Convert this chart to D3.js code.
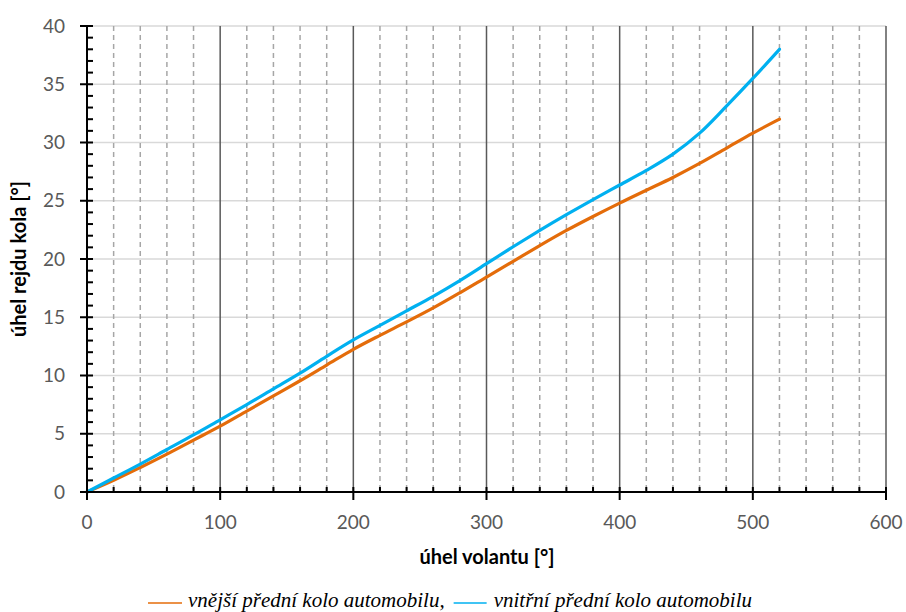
<!DOCTYPE html>
<html>
<head>
<meta charset="utf-8">
<script src="https://cdn.jsdelivr.net/npm/d3@7"></script>
<style>
  body { margin: 0; background: #fff; }
  svg { display: block; }
</style>
</head>
<body>
<div id="chart"></div>
<script>
// steering wheel angle [deg]
var wheelAngle = [0, 20, 40, 60, 80, 100, 120, 140, 160, 180, 200, 220, 240, 260,
  280, 300, 320, 340, 360, 380, 400, 420, 440, 460, 480, 500, 520];
// outer front wheel (orange)
var outerWheel = [0, 1.0, 2.1, 3.25, 4.45, 5.65, 6.95, 8.25, 9.55, 10.9, 12.25, 13.45, 14.6, 15.8,
  17.1, 18.45, 19.8, 21.15, 22.45, 23.65, 24.8, 25.9, 27.0, 28.2, 29.5, 30.8, 32.0];
// inner front wheel (blue)
var innerWheel = [0, 1.2, 2.4, 3.65, 4.9, 6.2, 7.5, 8.85, 10.2, 11.65, 13.05, 14.3, 15.55, 16.8,
  18.15, 19.6, 21.05, 22.45, 23.8, 25.1, 26.35, 27.6, 29.0, 30.8, 33.1, 35.5, 38.0];

var xTicks = [0, 100, 200, 300, 400, 500, 600];
var yTicks = [0, 5, 10, 15, 20, 25, 30, 35, 40];

var seriesNames = ["vnější přední kolo automobilu", "vnitřní přední kolo automobilu"];
var seriesColors = ["#E46C0A", "#00B0F0"];

var W = 906, H = 612;

var svg = d3.select("#chart").append("svg").attr("width", W).attr("height", H);

var x = d3.scaleLinear().domain([0, 600]).range([87, 886]);
var y = d3.scaleLinear().domain([0, 40]).range([492, 26]);

var grid = svg.append("g");

// horizontal gridlines
grid.selectAll("line.hg").data(yTicks.filter(function (d) { return d > 0; }))
  .enter().append("line")
  .attr("x1", x(0)).attr("x2", x(600))
  .attr("y1", function (d) { return y(d); }).attr("y2", function (d) { return y(d); })
  .attr("stroke", "#d9d9d9").attr("stroke-width", 1.5);

// minor vertical gridlines (dashed)
grid.selectAll("line.vm").data(d3.range(20, 600, 20).filter(function (d) { return d % 100 != 0; }))
  .enter().append("line")
  .attr("x1", function (d) { return x(d); }).attr("x2", function (d) { return x(d); })
  .attr("y1", y(40)).attr("y2", y(0))
  .attr("stroke", "#a6a6a6").attr("stroke-width", 1.5)
  .attr("stroke-dasharray", "5,4");

// major vertical gridlines
grid.selectAll("line.vM").data(xTicks.filter(function (d) { return d > 0; }))
  .enter().append("line")
  .attr("x1", function (d) { return x(d); }).attr("x2", function (d) { return x(d); })
  .attr("y1", y(40)).attr("y2", y(0))
  .attr("stroke", "#595959").attr("stroke-width", 1.5);

// series
var line = d3.line()
  .x(function (d) { return x(d[0]); })
  .y(function (d) { return y(d[1]); })
  .curve(d3.curveCatmullRom.alpha(0.5));

[outerWheel, innerWheel].forEach(function (vals, i) {
  svg.append("path")
    .datum(wheelAngle.map(function (a, j) { return [a, vals[j]]; }))
    .attr("d", line)
    .attr("fill", "none")
    .attr("stroke", seriesColors[i])
    .attr("stroke-width", 3.2)
    .attr("stroke-linecap", "round");
});

// axes
var ax = svg.append("g").attr("stroke", "#000").attr("stroke-width", 2);
ax.append("line").attr("x1", x(0)).attr("x2", x(600)).attr("y1", y(0)).attr("y2", y(0));
ax.append("line").attr("x1", x(0)).attr("x2", x(0)).attr("y1", y(40) - 1).attr("y2", y(0));

// x minor ticks (inside), major ticks (cross)
ax.selectAll("line.xm").data(d3.range(20, 600, 20).filter(function (d) { return d % 100 != 0; }))
  .enter().append("line")
  .attr("x1", function (d) { return x(d); }).attr("x2", function (d) { return x(d); })
  .attr("y1", y(0) - 5).attr("y2", y(0));
ax.selectAll("line.xM").data(xTicks)
  .enter().append("line")
  .attr("x1", function (d) { return x(d); }).attr("x2", function (d) { return x(d); })
  .attr("y1", y(0) - 5).attr("y2", y(0) + 8);

// y minor ticks (inside), major ticks (cross)
ax.selectAll("line.ym").data(d3.range(1, 40, 1).filter(function (d) { return d % 5 != 0; }))
  .enter().append("line")
  .attr("x1", x(0)).attr("x2", x(0) + 6)
  .attr("y1", function (d) { return y(d); }).attr("y2", function (d) { return y(d); });
ax.selectAll("line.yM").data(yTicks)
  .enter().append("line")
  .attr("x1", x(0) - 7).attr("x2", x(0) + 6)
  .attr("y1", function (d) { return y(d); }).attr("y2", function (d) { return y(d); });

// tick labels
var labFont = "Lato, 'Open Sans', sans-serif";
svg.selectAll("text.yl").data(yTicks).enter().append("text")
  .attr("x", 65).attr("y", function (d) { return y(d); })
  .attr("dy", "0.35em").attr("text-anchor", "end")
  .attr("font-family", labFont).attr("font-size", 19).attr("fill", "#595959")
  .text(function (d) { return d; });

svg.selectAll("text.xl").data(xTicks).enter().append("text")
  .attr("x", function (d) { return x(d); }).attr("y", 522)
  .attr("dy", "0.35em").attr("text-anchor", "middle")
  .attr("font-family", labFont).attr("font-size", 19).attr("fill", "#595959")
  .text(function (d) { return d; });

// axis titles
svg.append("text")
  .attr("x", 487).attr("y", 557).attr("dy", "0.35em")
  .attr("text-anchor", "middle")
  .attr("font-family", labFont).attr("font-weight", "bold").attr("font-size", 20)
  .text("úhel volantu [°]");

svg.append("text")
  .attr("transform", "translate(19,259) rotate(-90)")
  .attr("dy", "0.35em")
  .attr("text-anchor", "middle")
  .attr("font-family", labFont).attr("font-weight", "bold").attr("font-size", 20)
  .text("úhel rejdu kola [°]");

// legend
var leg = svg.append("g");
var legY = 603;
var serif = "'Liberation Serif', 'Times New Roman', serif";
leg.append("line").attr("x1", 148).attr("x2", 182).attr("y1", legY).attr("y2", legY)
  .attr("stroke", seriesColors[0]).attr("stroke-width", 1.5);
var t1 = leg.append("text").attr("x", 188).attr("y", legY + 4)
  .attr("font-family", serif).attr("font-style", "italic").attr("font-size", 21)
  .text(seriesNames[0] + ",");
var w1 = t1.node().getComputedTextLength();
leg.append("line").attr("x1", 188 + w1 + 9).attr("x2", 188 + w1 + 42).attr("y1", legY).attr("y2", legY)
  .attr("stroke", seriesColors[1]).attr("stroke-width", 1.5);
leg.append("text").attr("x", 188 + w1 + 49).attr("y", legY + 4)
  .attr("font-family", serif).attr("font-style", "italic").attr("font-size", 21)
  .text(seriesNames[1]);
</script>
</body>
</html>
